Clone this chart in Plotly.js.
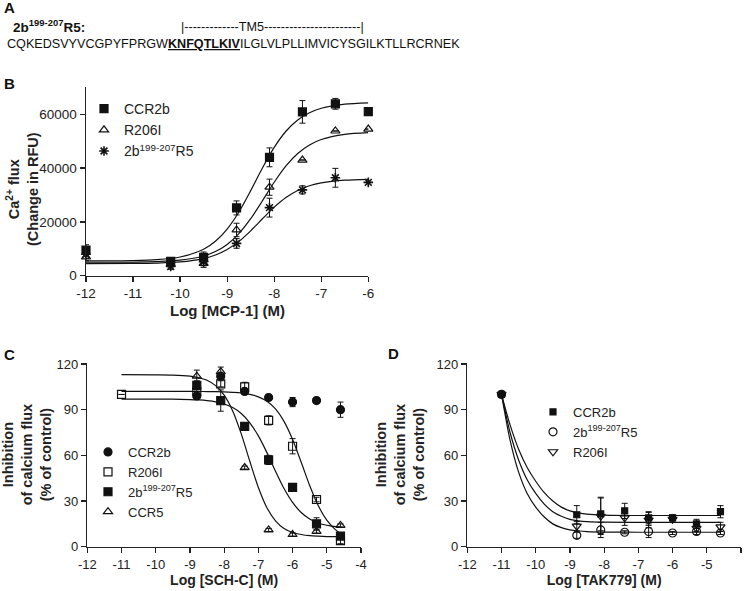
<!DOCTYPE html>
<html>
<head>
<meta charset="utf-8">
<script src="https://cdn.plot.ly/plotly-3.0.1.min.js"></script>
<style>html,body{margin:0;padding:0;background:#fff;}#chart{width:745px;height:591px;}</style>
</head>
<body>
<div id="chart"></div>
<script>
// ---------- Panel B : MCP-1 dose response ----------
const bDoses = [-12, -10.2, -9.5, -8.8, -8.1, -7.4, -6.7, -6];
const bCCR2b = [9500, 5300, 6800, 25200, 44000, 60900, 63900, 61000];
const bCCR2bErr = [2000, 1200, 2000, 2600, 3500, 4200, 2000, 0];
const bR206I = [7000, 4200, 4600, 17000, 32900, 43000, 53800, 54500];
const bR206IErr = [1500, 1000, 1500, 2500, 3000, 0, 0, 0];
const b2bR5 = [8000, 3400, 5200, 12000, 25300, 31900, 36400, 34700];
const b2bR5Err = [1500, 1000, 1500, 1800, 3500, 1500, 3500, 0];
// fitted curves
const bFitX = [-12, -11, -10.5, -10, -9.5, -9.25, -9, -8.75, -8.5, -8.25, -8, -7.75, -7.5, -7.25, -7, -6.5, -6];
const bFitCCR2b = [5515, 5650, 5965, 6950, 9840, 12800, 17350, 23700, 31620, 40040, 47700, 53700, 57900, 60600, 62240, 63770, 64270];
const bFitR206I = [5008, 5077, 5242, 5757, 7314, 8977, 11635, 15665, 21194, 27853, 34735, 40800, 45435, 48607, 50619, 52549, 53195];
const bFit2bR5 = [4506, 4563, 4697, 5117, 6370, 7678, 9742, 12750, 16687, 21157, 25485, 29073, 31690, 33423, 34497, 35509, 35843];
const bXTickVals = [-12, -11, -10, -9, -8, -7, -6];
const bXTickText = ['-12', '-11', '-10', '-9', '-8', '-7', '-6'];
const bYTickVals = [0, 20000, 40000, 60000];
const bYTickText = ['0', '20000', '40000', '60000'];

// ---------- Panel C : SCH-C inhibition ----------
const cDoses = [-11, -8.8, -8.1, -7.4, -6.7, -6, -5.3, -4.6];
const cCCR2b = [null, 99, 112, 102, 98, 95, 96, 90];
const cCCR2bErr = [0, 2, 2, 2, 1.5, 3, 1.5, 5];
const cR206I = [100, 102, 107, 105, 83, 66, 31, 4];
const cR206IErr = [0, 2, 2, 3, 3, 5, 1.5, 2];
const c2bR5 = [null, 106, 96, 79, 57, 39, 15, 7];
const c2bR5Err = [0, 3, 7, 1, 3, 2, 4, 1];
const cCCR5 = [null, 112, 115, 52, 11, 8, 10, 14];
const cCCR5Err = [0, 4, 3, 1, 1, 1, 1, 1];
const cFitX = [-11, -10, -9.5, -9, -8.75, -8.5, -8.25, -8, -7.75, -7.5, -7.25, -7, -6.75, -6.5, -6.25, -6, -5.75, -5.5, -5.25, -5, -4.75, -4.6];
const cFitR206I = [102, 102, 102, 101.98, 101.95, 101.92, 101.85, 101.7, 101.4, 100.97, 100.1, 98.45, 95.5, 90.5, 82.3, 70.45, 55.6, 40.2, 27.0, 17.4, 11.2, 8.76];
const cFit2bR5 = [97.0, 96.97, 96.9, 96.66, 96.4, 95.94, 95.14, 93.75, 91.38, 87.5, 81.4, 72.8, 61.8, 49.6, 38.2, 29.1, 22.5, 18.25, 15.6, 14.08, 13.2, 12.84];
const cFitCCR5 = [113.0, 112.9, 112.76, 112.04, 111.1, 109.3, 105.8, 99.6, 89.2, 74.1, 56.1, 38.9, 25.6, 17.0, 12.0, 9.36, 8.0, 7.23, 6.9, 6.68, 6.6, 6.56];

// ---------- Panel D : TAK779 inhibition ----------
const dDoses = [-11, -8.8, -8.1, -7.4, -6.7, -6, -5.3, -4.6];
const dCCR2b = [100, 21, 21.5, 23.5, 19, 19, 15, 23];
const dCCR2bErr = [0, 6, 11, 5, 4, 2, 3, 4];
const d2bR5 = [100, 7.5, 11, 9.5, 10, 9, 10, 9];
const d2bR5Err = [0, 2, 5, 1, 4, 1, 2, 1];
const dR206I = [100, 13.5, 20, 19, 17.5, 18, 12, 13];
const dR206IErr = [0, 3, 12, 5, 5, 2, 2, 3];
const dFitX = [-11, -10.75, -10.5, -10.25, -10, -9.75, -9.5, -9.25, -9, -8.75, -8.5, -8, -7, -4.6];
const dFitCCR2b = [100, 80, 64, 52, 43, 35.5, 30, 26, 23.5, 22.2, 21.4, 20.8, 20.5, 20.5];
const dFitR206I = [100, 75, 57, 44, 35, 28, 23, 20, 18, 17, 16.5, 16.1, 16, 16];
const dFit2bR5 = [100, 70, 49, 35, 26, 19.5, 15, 12.5, 11, 10.3, 9.9, 9.6, 9.5, 9.5];

// shared ticks for C and D
const cdXTickVals = [-12, -11, -10, -9, -8, -7, -6, -5, -4];
const cdXTickText = ['-12', '-11', '-10', '-9', '-8', '-7', '-6', '-5', '-4'];
const cdYTickVals = [0, 30, 60, 90, 120];
const cdYTickText = ['0', '30', '60', '90', '120'];

// ---------- text ----------
const seqBefore = 'CQKEDSVYVCGPYFPRGW';
const seqMotif = 'KNFQTLKIV';
const seqAfter = 'ILGLVLPLLIMVICYSGILKTLLRCRNEK';
const tmLabel = '|-------------TM5-----------------------|';
const bXTitle = 'Log [MCP-1] (M)';
const bYTitle = 'Ca<sup>2+</sup> flux<br>(Change in RFU)';
const yTitleCD = 'Inhibition<br>of calcium flux<br>(% of control)';

const INK = '#111';
const FONT = 'Liberation Sans, Arial, Helvetica, sans-serif';
const W = 745, H = 591;
const px = v => v / W;
const py = v => 1 - v / H;

function pts(x, y, err, name, symbol, size, leg, lw) {
  return {
    type: 'scatter', mode: 'markers', x: x, y: y, name: name, legend: leg,
    xaxis: leg === 'legend' ? 'x' : (leg === 'legend2' ? 'x2' : 'x3'),
    yaxis: leg === 'legend' ? 'y' : (leg === 'legend2' ? 'y2' : 'y3'),
    marker: {symbol: symbol, size: size, color: INK, line: {color: INK, width: lw || 1.2}},
    error_y: {type: 'data', array: err, visible: true, color: INK, thickness: 1, width: 3},
    cliponaxis: false
  };
}
function fit(x, y, ax) {
  return {
    type: 'scatter', mode: 'lines', x: x, y: y, showlegend: false, hoverinfo: 'skip',
    xaxis: 'x' + ax, yaxis: 'y' + ax,
    line: {color: INK, width: 1.2, shape: 'spline', smoothing: 0.8}
  };
}

const traces = [
  fit(bFitX, bFitCCR2b, ''), fit(bFitX, bFitR206I, ''), fit(bFitX, bFit2bR5, ''),
  pts(bDoses, bCCR2b, bCCR2bErr, 'CCR2b', 'square', 8, 'legend'),
  pts(bDoses, bR206I, bR206IErr, 'R206I', 'triangle-up-open', 8, 'legend'),
  pts(bDoses, b2bR5, b2bR5Err, '2b<sup>199-207</sup>R5', 'asterisk-open', 8, 'legend', 1.6),

  fit(cFitX, cFitR206I, '2'), fit(cFitX, cFit2bR5, '2'), fit(cFitX, cFitCCR5, '2'),
  pts(cDoses, cCCR2b, cCCR2bErr, 'CCR2b', 'circle', 8, 'legend2'),
  pts(cDoses, cR206I, cR206IErr, 'R206I', 'square-open', 8, 'legend2'),
  pts(cDoses, c2bR5, c2bR5Err, '2b<sup>199-207</sup>R5', 'square', 8, 'legend2'),
  pts(cDoses, cCCR5, cCCR5Err, 'CCR5', 'triangle-up-open', 8, 'legend2'),

  fit(dFitX, dFitCCR2b, '3'), fit(dFitX, dFitR206I, '3'), fit(dFitX, dFit2bR5, '3'),
  pts(dDoses, dCCR2b, dCCR2bErr, 'CCR2b', 'square', 6, 'legend3'),
  pts(dDoses, d2bR5, d2bR5Err, '2b<sup>199-207</sup>R5', 'circle-open', 8, 'legend3'),
  pts(dDoses, dR206I, dR206IErr, 'R206I', 'triangle-down-open', 8, 'legend3')
];

function axBase(fs) {
  return {
    showgrid: false, zeroline: false, showline: true, linecolor: '#222', linewidth: 1.5,
    ticks: 'outside', ticklen: 5, tickwidth: 1.3, tickcolor: '#222', tickmode: 'array',
    tickfont: {family: FONT, size: fs, color: '#222'}, fixedrange: true, automargin: false
  };
}
function ax(domain, range, vals, text, title, fs, tfs, anchor, standoff) {
  const a = Object.assign(axBase(fs), {domain: domain, range: range, tickvals: vals, ticktext: text, anchor: anchor});
  if (title) a.title = {text: '<b>' + title + '</b>', font: {family: FONT, size: tfs, color: '#222'}, standoff: standoff};
  return a;
}

const legendBase = {bgcolor: 'rgba(0,0,0,0)', borderwidth: 0, xanchor: 'left', yanchor: 'top', itemclick: false, itemdoubleclick: false};

const layout = {
  width: W, height: H, margin: {l: 0, r: 0, t: 0, b: 0}, paper_bgcolor: '#fff', plot_bgcolor: '#fff',
  font: {family: FONT, color: '#222'},
  showlegend: true,
  xaxis: ax([px(86), px(368.3)], [-12, -6], bXTickVals, bXTickText, null, 13.5, 15, 'y'),
  yaxis: ax([1 - 275.7 / H, 1 - 87.4 / H], [0, 70000], bYTickVals, bYTickText, null, 13.5, 14.5, 'x'),
  xaxis2: ax([px(87.3), px(361)], [-12, -4], cdXTickVals, cdXTickText, 'Log [SCH-C] (M)', 13, 14, 'y2', 4),
  yaxis2: ax([1 - 546.7 / H, 1 - 362.5 / H], [0, 121], cdYTickVals, cdYTickText, yTitleCD, 13, 14.5, 'x2', 8),
  xaxis3: ax([px(467.3), px(741)], [-12, -4], cdXTickVals, cdXTickText, 'Log [TAK779] (M)', 13, 14, 'y3', 4),
  yaxis3: ax([1 - 546.7 / H, 1 - 362.5 / H], [0, 121], cdYTickVals, cdYTickText, yTitleCD, 13, 14.5, 'x3', 8),
  legend: Object.assign({}, legendBase, {x: px(84), y: py(93), font: {family: FONT, size: 14, color: '#222'}}),
  legend2: Object.assign({}, legendBase, {x: px(88), y: py(437), font: {family: FONT, size: 13, color: '#222'}}),
  legend3: Object.assign({}, legendBase, {x: px(533), y: py(397), font: {family: FONT, size: 13, color: '#222'}}),
  annotations: [
    {text: '<b>A</b>', x: px(2), y: py(7.5), xanchor: 'left', yanchor: 'middle', font: {size: 15, family: FONT, color: '#111'}},
    {text: '<b>2b<sup>199-207</sup>R5:</b>', x: px(11), y: py(26), xanchor: 'left', yanchor: 'middle', font: {size: 13.5, family: FONT, color: '#111'}},
    {text: tmLabel, x: px(179), y: py(26.5), xanchor: 'left', yanchor: 'middle', font: {size: 12.6, family: FONT, color: '#111'}},
    {text: seqBefore + '<b><u>' + seqMotif + '</u></b>' + seqAfter, x: px(5), y: py(43.5), xanchor: 'left', yanchor: 'middle', font: {size: 12.6, family: FONT, color: '#111'}},
    {text: '<b>B</b>', x: px(2), y: py(83), xanchor: 'left', yanchor: 'middle', font: {size: 15, family: FONT, color: '#111'}},
    {text: '<b>C</b>', x: px(2), y: py(354), xanchor: 'left', yanchor: 'middle', font: {size: 15, family: FONT, color: '#111'}},
    {text: '<b>D</b>', x: px(386), y: py(353), xanchor: 'left', yanchor: 'middle', font: {size: 15, family: FONT, color: '#111'}},
    {text: '<b>' + bXTitle + '</b>', x: px(227), y: py(311), xanchor: 'center', yanchor: 'middle', font: {size: 15, family: FONT, color: '#222'}},
    {text: '<b>' + bYTitle + '</b>', x: px(23), y: py(189), xanchor: 'center', yanchor: 'middle', textangle: -90, font: {size: 14.5, family: FONT, color: '#222'}}
  ].map(a => Object.assign({xref: 'paper', yref: 'paper', showarrow: false}, a))
};

Plotly.newPlot('chart', traces, layout, {staticPlot: true, displayModeBar: false});
</script>
</body>
</html>
